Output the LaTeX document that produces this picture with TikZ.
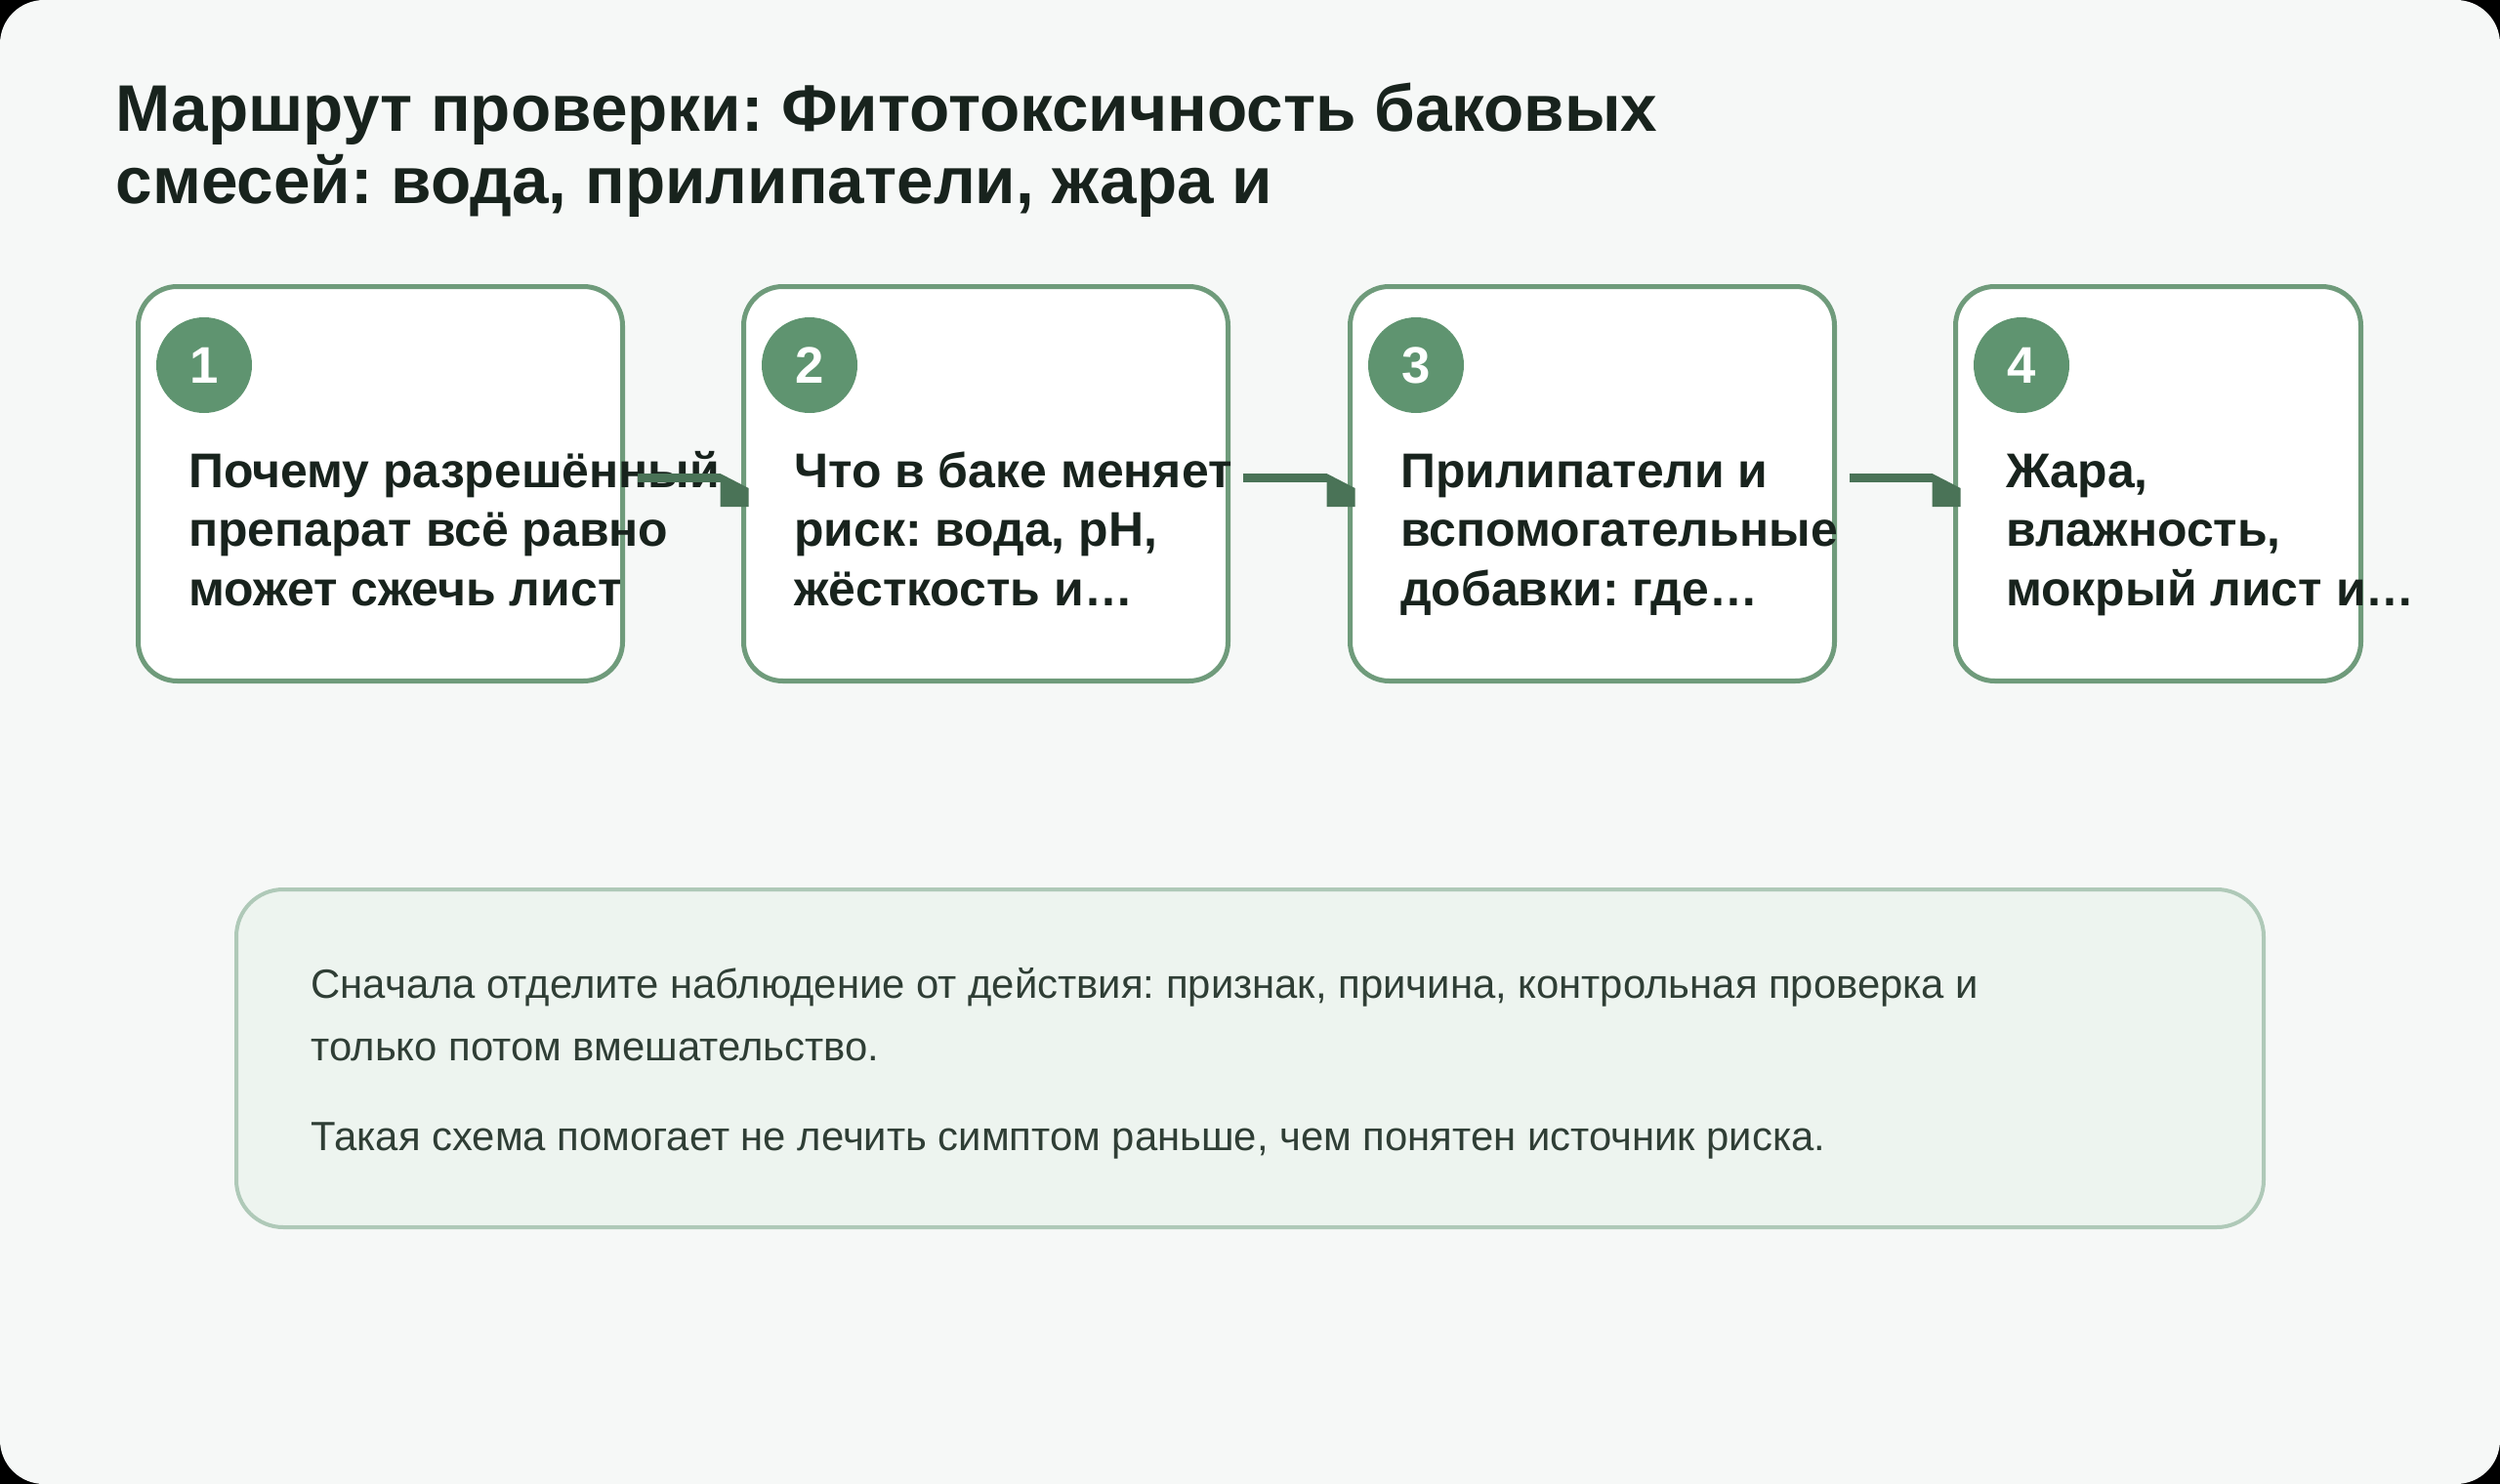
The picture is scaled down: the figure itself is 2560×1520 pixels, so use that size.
\documentclass[tikz,border=0pt]{standalone}
\usepackage{fontspec}
\setmainfont{Liberation Sans}
\frenchspacing
\usetikzlibrary{positioning}
\definecolor{pagebg}{HTML}{F6F8F7}
\definecolor{cardline}{HTML}{6F9B7B}
\definecolor{badgefill}{HTML}{5F9470}
\definecolor{linkcol}{HTML}{4A7357}
\definecolor{inkdark}{HTML}{18231D}
\definecolor{notefill}{HTML}{EDF4EF}
\definecolor{noteline}{HTML}{AFC9B8}
\definecolor{noteink}{HTML}{2F3E35}

\begin{document}
\begin{tikzpicture}[x=0.1mm, y=-0.1mm,
    card/.style={draw=cardline, line width=0.5mm, fill=white,
                 rounded corners=4mm, minimum height=40.4mm, inner sep=0pt},
    badge/.style={circle, fill=badgefill, minimum size=9.8mm, inner sep=0pt,
                  text=white, font=\fontsize{15pt}{18pt}\selectfont\bfseries},
    cardtext/.style={anchor=base west, align=left, inner sep=0pt, text=inkdark,
                     font=\fontsize{14.2pt}{17.1pt}\selectfont\bfseries},
    link/.style={draw=linkcol, line width=0.9mm},
    notebox/.style={draw=noteline, line width=0.4mm, fill=notefill,
                    rounded corners=4.8mm, inner sep=0pt},
    notetext/.style={anchor=base west, align=left, inner sep=0pt, text=noteink,
                     font=\fontsize{11.9pt}{18pt}\selectfont},
]
    \useasboundingbox (0,0) rectangle (2560,1520);
    \fill[black] (0,0) rectangle (2560,1520);
    \fill[pagebg, rounded corners=4.5mm] (0,0) rectangle (2560,1520);

    % Title
    \node[anchor=base west, align=left, inner sep=0pt, text=inkdark,
          font=\fontsize{19.2pt}{21.3pt}\selectfont\bfseries] (title) at (118,209)
        {Маршрут проверки: Фитотоксичность баковых\\смесей: вода, прилипатели, жара и};

    % Steps
    \foreach \i/\x/\w/\txt in {
        1/389.5/49.6/{Почему разрешённый\\препарат всё равно\\может сжечь лист},
        2/1009.5/49.6/{Что в баке меняет\\риск: вода, pH,\\жёсткость и…},
        3/1630.5/49.6/{Прилипатели и\\вспомогательные\\добавки: где…},
        4/2210/41.5/{Жара,\\влажность,\\мокрый лист и…}} {
        \node[card, minimum width=\w mm] (card\i) at (\x,495.5) {};
        \node[badge] (badge\i) at ([shift={(70,83)}]card\i.north west) {\i};
        \node[cardtext] (text\i) at ([shift={(53.5,329)}]card\i.north west) {\txt};
    }

    % Links between steps
    \foreach \a/\b in {1/2, 2/3, 3/4} {
        \draw[link] ([shift={(12.5,-6)}]card\a.east) -- ([shift={(-21.5,-6)}]card\b.west);
        \fill[linkcol] ([shift={(-21.5,-10.5)}]card\b.west) -- ++(29,15) -- ++(0,19)
            -- ++(-29,0) -- cycle;
    }

    % Note
    \node[notebox, minimum width=207.6mm, minimum height=34.6mm] (note) at (1280,1084) {};
    \node[notetext] (note1) at ([shift={(78,177)}]note.north west)
        {Сначала отделите наблюдение от действия: признак, причина, контрольная проверка и\\только потом вмешательство.};
    \node[notetext] (note2) at ([shift={(78,269)}]note.north west)
        {Такая схема помогает не лечить симптом раньше, чем понятен источник риска.};
\end{tikzpicture}
\end{document}
